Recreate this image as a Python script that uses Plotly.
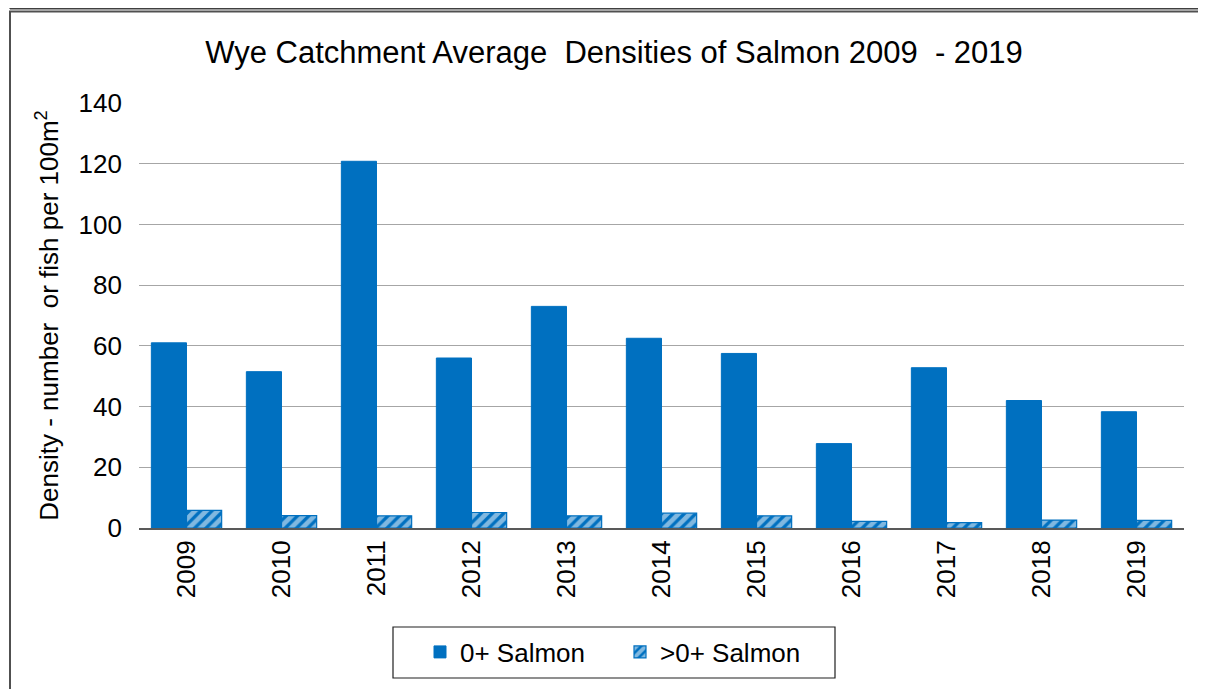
import plotly.graph_objects as go

years = ["2009", "2010", "2011", "2012", "2013", "2014", "2015", "2016", "2017", "2018", "2019"]
salmon_0 = [61.0, 51.5, 120.8, 56.0, 73.0, 62.5, 57.5, 27.8, 52.8, 42.0, 38.3]
salmon_gt0 = [5.8, 4.1, 4.0, 5.1, 4.0, 4.9, 4.0, 2.2, 1.8, 2.6, 2.5]
y_ticks = [0, 20, 40, 60, 80, 100, 120, 140]

BLUE = "#0070C0"
FONT = "Liberation Sans, Arial, sans-serif"

OFF = 8  # page body margin
W, H = 1206 - OFF, 689 - OFF
# plot area in reference pixel coordinates
RL, RR, RT, RB = 139, 1184, 103, 528
L, R, T, B = RL - OFF, RR - OFF, RT - OFF, RB - OFF

def px(x):  # reference x pixel -> paper
    return (x - RL) / (RR - RL)

def py(y):  # reference y pixel -> paper
    return (RB - y) / (RB - RT)

fig = go.Figure()
fig.add_trace(go.Bar(
    x=years, y=salmon_0, name="0+ Salmon",
    marker=dict(color=BLUE, line=dict(color=BLUE, width=1)),
))
fig.add_trace(go.Bar(
    x=years, y=salmon_gt0, name=">0+ Salmon",
    marker=dict(color=BLUE, line=dict(color=BLUE, width=1.2),
                pattern=dict(shape="/", fgcolor="white", bgcolor=BLUE,
                             size=8, solidity=0.6)),
))

frame_col = "#404040"
shapes = [
    dict(type="line", xref="paper", yref="paper", x0=px(10), x1=px(10), y0=py(6), y1=py(8.7),
         line=dict(color=frame_col, width=1.5)),
    dict(type="line", xref="paper", yref="paper", x0=px(10), x1=px(1300), y0=py(8.7), y1=py(8.7),
         line=dict(color=frame_col, width=1.5)),
    dict(type="rect", xref="paper", yref="paper", x0=px(10), x1=px(1300), y0=py(11.5), y1=py(800),
         line=dict(color="#505050", width=2)),
    dict(type="rect", xref="paper", yref="paper", x0=px(393), x1=px(835), y0=py(627), y1=py(678),
         line=dict(color="#202020", width=1.2), fillcolor="rgba(0,0,0,0)"),
]

fig.update_layout(
    width=W, height=H,
    margin=dict(l=L, r=W - R, t=T, b=H - B),
    paper_bgcolor="white", plot_bgcolor="white",
    font=dict(family=FONT, size=26, color="black"),
    title=dict(text="Wye Catchment Average  Densities of Salmon 2009  - 2019",
               x=(614 - OFF) / W, xanchor="center", y=1 - (52 - OFF) / H, yanchor="middle",
               font=dict(family=FONT, size=31, color="black")),
    barmode="group", bargap=0.26, bargroupgap=0,
    showlegend=True,
    legend=dict(orientation="h", x=px(420), xanchor="left", y=py(652), yanchor="middle",
                borderwidth=0, bgcolor="rgba(0,0,0,0)",
                font=dict(family=FONT, size=26, color="black"),
                itemwidth=30, entrywidth=155, traceorder="normal"),
    shapes=shapes,
    xaxis=dict(type="category", tickangle=-90, showgrid=False,
               showline=True, linecolor="#595959", linewidth=2,
               ticks="", tickfont=dict(family=FONT, size=26, color="black")),
    yaxis=dict(range=[0, 140], tickvals=y_ticks, ticktext=[str(v) for v in y_ticks],
               showgrid=True, gridcolor="#A6A6A6", gridwidth=1,
               showline=False, zeroline=False, ticks="",
               ticklabelstandoff=16,
               tickfont=dict(family=FONT, size=26, color="black"),
               title=dict(text="Density - number  or fish per 100m<sup>2</sup>",
                          font=dict(family=FONT, size=26, color="black"),
                          standoff=12)),
)

fig.write_html("out.html")
